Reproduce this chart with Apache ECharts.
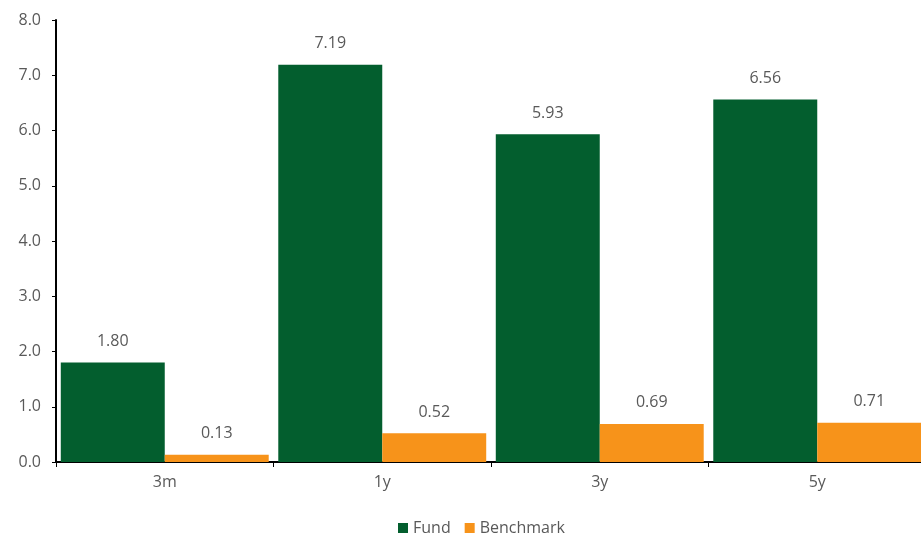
<!DOCTYPE html>
<html>
<head>
<meta charset="utf-8">
<script src="https://cdn.jsdelivr.net/npm/echarts@6/dist/echarts.min.js"></script>
<style>
html, body { margin: 0; padding: 0; background: #fff; overflow: hidden; }
#chart { width: 926px; height: 536px; }
</style>
</head>
<body>
<div id="chart"></div>
<script>
// 数据
var categories = ['3m', '1y', '3y', '5y'];
var fundData = [1.80, 7.19, 5.93, 6.56];
var benchmarkData = [0.13, 0.52, 0.69, 0.71];

var textColor = '#595959';
var fontName = '"Open Sans", "DejaVu Sans", sans-serif';

var myChart = echarts.init(document.getElementById('chart'));
var labelOpt = {
	show : true,
	position : 'top',
	distance : 13,
	color : textColor,
	fontSize : 16,
	fontFamily : fontName,
	formatter : function(p) { return p.value.toFixed(2); }
};
var option = {
	animation : false,
	textStyle : { fontFamily : fontName },
	legend : {
		data : ['Fund', 'Benchmark'],
		bottom : -5,
		left : 393,
		itemWidth : 10,
		itemHeight : 10,
		itemGap : 14,
		icon : 'rect',
		textStyle : { color : textColor, fontSize : 16, fontFamily : fontName }
	},
	grid : {
		left : 56,
		right : 0,
		top : 20,
		bottom : 74
	},
	xAxis : [ {
		type : 'category',
		data : categories,
		axisLine : { lineStyle : { color : '#000', width : 2 } },
		axisTick : { show : true, alignWithLabel : false, length : 5, lineStyle : { color : '#000' } },
		axisLabel : { color : textColor, fontSize : 16, fontFamily : fontName, margin : 12 }
	} ],
	yAxis : [ {
		type : 'value',
		min : 0,
		max : 8,
		interval : 1,
		axisLine : { show : true, lineStyle : { color : '#000', width : 2 } },
		axisTick : { show : true, length : 4, lineStyle : { color : '#000' } },
		splitLine : { show : false },
		axisLabel : {
			color : textColor, fontSize : 16, fontFamily : fontName, margin : 15,
			formatter : function(v) { return v.toFixed(1); }
		}
	} ],
	series : [ {
		name : 'Fund',
		type : 'bar',
		data : fundData,
		barGap : '0%',
		barCategoryGap : '4.4%',
		itemStyle : { color : '#035E2E' },
		label : labelOpt
	}, {
		name : 'Benchmark',
		type : 'bar',
		data : benchmarkData,
		itemStyle : { color : '#F7931A' },
		label : labelOpt
	} ]
};
myChart.setOption(option);
</script>
</body>
</html>
